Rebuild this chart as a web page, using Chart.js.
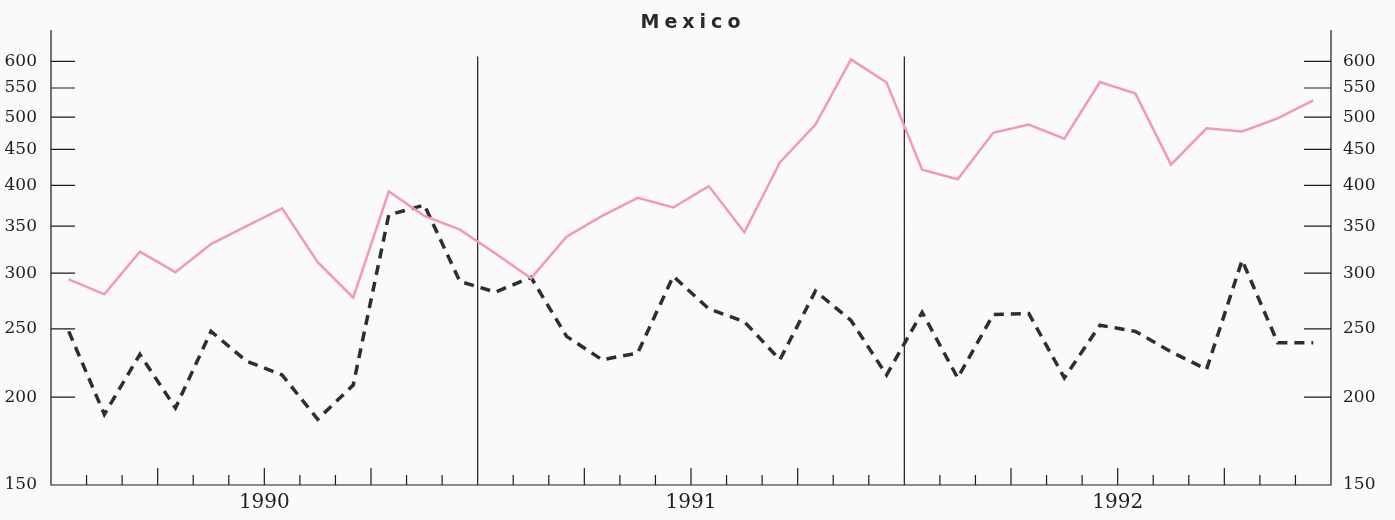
<!DOCTYPE html>
<html>
<head>
<meta charset="utf-8">
<script src="https://cdn.jsdelivr.net/npm/chart.js@4/dist/chart.umd.min.js"></script>
<style>
  html, body { margin: 0; background: #fafafa; }
  #wrap { width: 1395px; height: 520px; }
</style>
</head>
<body>
<div id="wrap"><canvas id="chart"></canvas></div>
<script>
// monthly observations, Jan 1990 .. Dec 1992
const months = [
  'Jan 1990','Feb 1990','Mar 1990','Apr 1990','May 1990','Jun 1990','Jul 1990','Aug 1990','Sep 1990','Oct 1990','Nov 1990','Dec 1990',
  'Jan 1991','Feb 1991','Mar 1991','Apr 1991','May 1991','Jun 1991','Jul 1991','Aug 1991','Sep 1991','Oct 1991','Nov 1991','Dec 1991',
  'Jan 1992','Feb 1992','Mar 1992','Apr 1992','May 1992','Jun 1992','Jul 1992','Aug 1992','Sep 1992','Oct 1992','Nov 1992','Dec 1992'
];
const years = ['1990', '1991', '1992'];
const solidSeries = [294,280,322,301,330,350,371,311,277,392,362,346,
                     320,295,338,362,384,372,399,343,431,488,604,560,
                     421,408,475,488,466,561,540,428,482,477,498,528];
const dashedSeries = [248,189,230,193,248,225,215,186,208,363,375,292,
                      282,296,244,226,231,297,267,256,226,283,257,215,
                      264,213,262,263,213,253,248,232,219,313,239,239];
const yTicks = [150,200,250,300,350,400,450,500,550,600];
const yMin = 150, yMax = 665;

const tickFont = { family: 'DejaVu Serif', size: 17 };

// axis frame with inward tick marks, drawn from the chart's scales
const frame = {
  id: 'frame',
  beforeDatasetsDraw(chart) {
    const { ctx, chartArea: a, scales } = chart;
    const x = scales.x, y = scales.y;
    ctx.save();
    ctx.strokeStyle = '#1c1c1c';
    ctx.lineWidth = 1.2;
    ctx.beginPath();
    ctx.moveTo(a.left, a.top);
    ctx.lineTo(a.left, a.bottom);
    ctx.lineTo(a.right, a.bottom);
    ctx.lineTo(a.right, a.top);
    ctx.stroke();

    ctx.beginPath();
    yTicks.forEach(v => {
      if (v === yMin) return;
      const py = y.getPixelForValue(v);
      ctx.moveTo(a.left, py); ctx.lineTo(a.left + 24, py);
      ctx.moveTo(a.right - 27, py); ctx.lineTo(a.right, py);
    });
    for (let i = 1; i < months.length; i++) {
      const bx = (x.getPixelForValue(i - 1) + x.getPixelForValue(i)) / 2;
      let top;
      if (i % 12 === 0) top = y.getPixelForValue(610);
      else if (i % 3 === 0) top = a.bottom - 17;
      else top = a.bottom - 10;
      ctx.moveTo(bx, a.bottom); ctx.lineTo(bx, top);
    }
    ctx.stroke();
    ctx.restore();
  },
  afterDraw(chart) {
    const { ctx, chartArea: a } = chart;
    ctx.save();
    ctx.font = 'bold 19px "DejaVu Sans"';
    ctx.letterSpacing = '5px';
    ctx.fillStyle = '#2a2a2a';
    ctx.textAlign = 'center';
    ctx.textBaseline = 'middle';
    ctx.fillText('Mexico', (a.left + a.right) / 2 + 2, 23);
    ctx.restore();
  }
};

function logAxis(position, width, pad) {
  return {
    type: 'logarithmic',
    position: position,
    min: yMin,
    max: yMax,
    afterBuildTicks: s => { s.ticks = yTicks.map(v => ({ value: v })); },
    afterFit: s => { s.width = width; },
    grid: { display: false, drawTicks: false },
    border: { display: false },
    ticks: {
      autoSkip: false,
      padding: pad,
      color: '#1e1e1e',
      font: tickFont,
      callback: v => String(v)
    }
  };
}

new Chart(document.getElementById('chart'), {
  type: 'line',
  data: {
    labels: months,
    datasets: [{
      data: solidSeries,
      borderColor: '#f598b1',
      borderWidth: 2.5,
      pointRadius: 0,
      tension: 0,
      fill: false,
      yAxisID: 'y'
    }, {
      data: dashedSeries,
      borderColor: '#2e2e2e',
      borderWidth: 3.5,
      borderDash: [10, 7],
      pointRadius: 0,
      tension: 0,
      fill: false,
      yAxisID: 'y'
    }]
  },
  options: {
    responsive: true,
    maintainAspectRatio: false,
    animation: false,
    layout: { padding: { top: 30, left: 0, right: 0, bottom: 0 } },
    plugins: {
      legend: { display: false },
      title: { display: false },
      tooltip: { enabled: false }
    },
    scales: {
      x: {
        type: 'category',
        offset: true,
        grid: { display: false, drawTicks: false },
        border: { display: false },
        ticks: { display: false },
        afterFit: s => { s.height = 0; }
      },
      year: {
        type: 'category',
        labels: years,
        position: 'bottom',
        offset: true,
        grid: { display: false, drawTicks: false },
        border: { display: false },
        ticks: {
          padding: 6,
          maxRotation: 0,
          color: '#1e1e1e',
          font: { family: 'DejaVu Serif', size: 20 }
        },
        afterFit: s => { s.height = 35; }
      },
      y: logAxis('left', 51, 14),
      y2: logAxis('right', 64, 12)
    }
  },
  plugins: [frame]
});
</script>
</body>
</html>
